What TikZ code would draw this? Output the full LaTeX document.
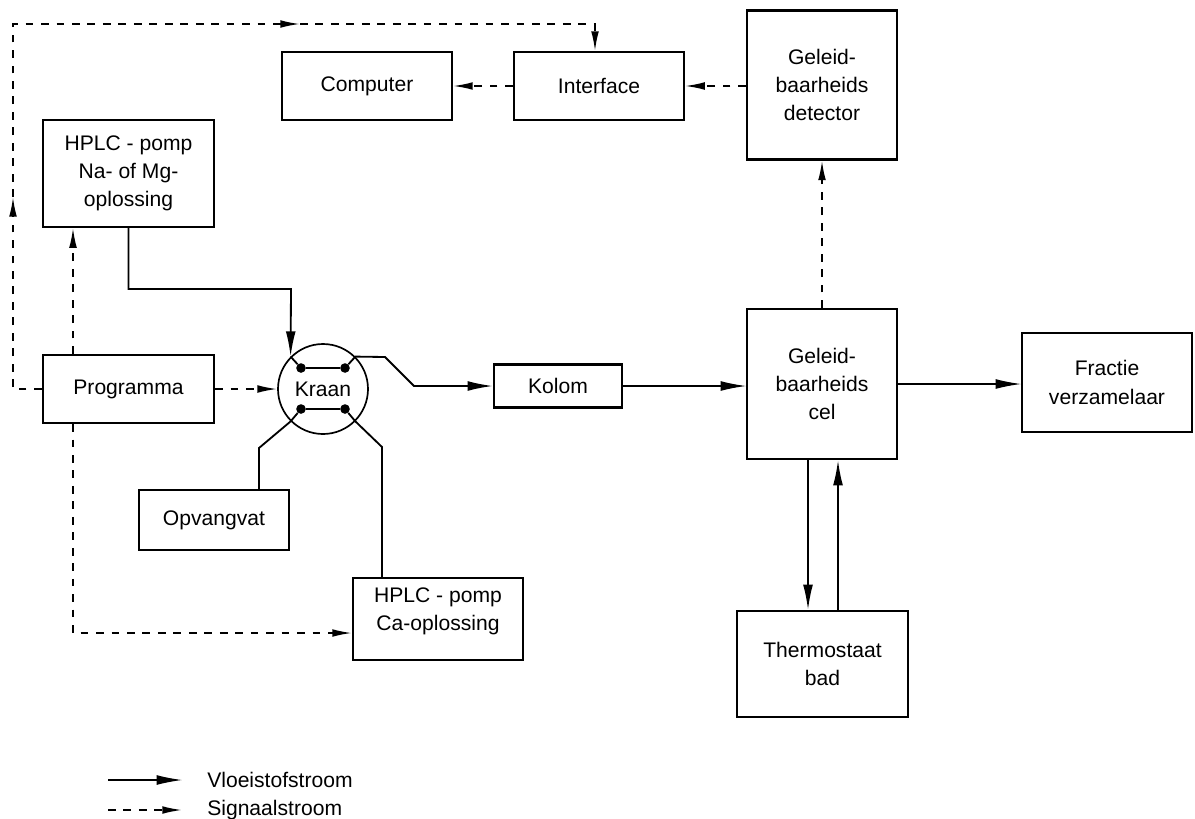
\documentclass[tikz,border=0pt]{standalone}
\usepackage{fontspec}
\setmainfont{Liberation Sans}
\usetikzlibrary{arrows.meta}
\tikzstyle{block}=[draw, line width=1.5pt, align=center, inner sep=0pt, font=\fontsize{15pt}{20pt}\selectfont]
\tikzstyle{knob}=[circle, fill=black, minimum size=0.24cm, inner sep=0pt]
\tikzstyle{pipe} = [draw, line width=1.3pt]
\tikzstyle{flow} = [draw, line width=1.3pt, -{Latex[length=18pt,width=7pt]}]
\tikzstyle{thinflow} = [flow, line width=0.8pt]
\tikzstyle{signal} = [draw, line width=1.2pt, dash pattern=on 5.5pt off 5.5pt, -{Latex[length=14pt,width=5.5pt]}]
\tikzstyle{legend} = [anchor=west, inner sep=0pt, font=\fontsize{15pt}{20pt}\selectfont]

\begin{document}
\begin{tikzpicture}[x=0.025cm, y=-0.025cm]
    \useasboundingbox (0,0) rectangle (1195,818);

    % blocks: centre x/centre y/width/height/name/text
    \foreach \x/\y/\w/\h/\name/\txt in {367/86/170/68/comp/{Computer},
        599/86/170/68/intf/{Interface},
        822/85/150/149/det/{Geleid-\\baarheids\\detector},
        128.5/173.5/171/107/na/{HPLC - pomp\\Na- of Mg-\\oplossing},
        128.5/389/171/68/prog/{Programma},
        214/520/150/60/opv/{Opvangvat},
        438/619/170/82/ca/{HPLC - pomp\\Ca-oplossing\\[-6pt]\mbox{}},
        558/386/128/43/kolom/{Kolom},
        822/384/150/150/cel/{Geleid-\\baarheids\\cel},
        1107/382.5/170/99/frac/{Fractie\\verzamelaar},
        822.5/664/171/106/therm/{Thermostaat\\bad}}
        \node[block, minimum width=\w*0.025cm, minimum height=\h*0.025cm] (\name) at (\x,\y) {\txt};

    % valve
    \node[block, circle, line width=1.2pt, minimum size=90*0.025cm] (kraan) at (323,389) {Kraan};
    \foreach \dx/\dy/\name in {-22/-21/k1, 22/-21/k2, -22/20/k3, 22/20/k4}
        \node[knob] (\name) at ([shift={(\dx,\dy)}]kraan.center) {};

    \coordinate (kin) at (291,289);
    \coordinate (kout1) at (385,357);
    \coordinate (kout2) at (414,386);
    \coordinate (kw) at (259,448);
    \coordinate (ke) at (382,447);
    \coordinate (tdown) at (808,459);
    \coordinate (tup) at (838,459);
    \coordinate (sx) at (73,633);
    \coordinate (ru) at (595,24);
    \coordinate (lmid) at (13,197);
    \coordinate (tmid) at (300,24);

    % liquid flow
    \path[flow] (na.south) |- (kin) -- (kraan.135);
    \path[pipe] (kraan.135) -- (k1);
    \path[pipe] (k1) -- (k2);
    \path[pipe] (k3) -- (k4);
    \path[flow] (k2) -- (kraan.45) -- (kout1) -- (kout2) -- (kolom.west);
    \path[pipe] (k3) -- (kraan.225) -- (kw) -- (kw |- opv.north);
    \path[pipe] (k4) -- (kraan.-45) -- (ke) -- (ke |- ca.north);
    \path[thinflow] (kolom.east) -- (kolom.east -| cel.west);
    \path[thinflow] (cel.east) -- (cel.east -| frac.west);
    \path[flow] (cel.south -| tdown) -- (therm.north -| tdown);
    \path[flow] (therm.north -| tup) -- (cel.south -| tup);

    % signals
    \path[signal] (prog.west) -| (lmid);
    \path[signal] (lmid) |- (tmid);
    \path[signal] (tmid) -| (intf.north -| ru);
    \path[signal] (prog.north -| sx) -- (na.south -| sx);
    \path[signal] (prog.south -| sx) -- (sx) -- (sx -| ca.west);
    \path[signal] (prog.east) -- (kraan.west);
    \path[signal] (det.west |- intf.east) -- (intf.east);
    \path[signal] (intf.west) -- (comp.east);
    \path[signal] (cel.north) -- (det.south);

    % legend
    \coordinate (lfa) at (108,780);
    \coordinate (lfb) at (182,780);
    \coordinate (lsa) at (108,810);
    \coordinate (lsb) at (182,810);
    \node[legend] (lflow) at (207,780) {Vloeistofstroom};
    \node[legend] (lsig) at (207,810) {Signaalstroom};
    \path[thinflow] (lfa) -- (lfb);
    \path[signal] (lsa) -- (lsb);
\end{tikzpicture}
\end{document}
